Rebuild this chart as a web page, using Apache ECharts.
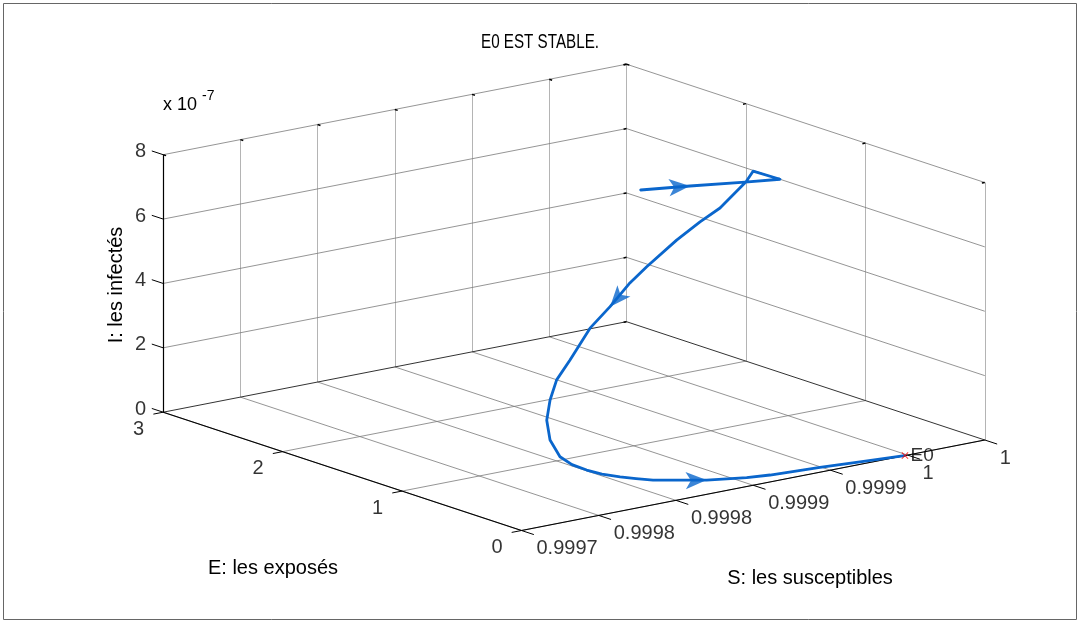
<!DOCTYPE html>
<html><head><meta charset="utf-8">
<script src="https://cdn.jsdelivr.net/npm/echarts@6/dist/echarts.min.js"></script>
<style>html,body{margin:0;padding:0;background:#fff}#c{width:1080px;height:623px}</style>
</head><body><div id="c"></div>
<script>
// ---- data (trajectory of the SEI system) ----
const sValues = [0.9999396, 0.9999483, 0.9999607, 0.9999695, 0.9999474, 0.9999382, 0.9999144, 0.9998968, 0.9998770, 0.9998530, 0.9998398, 0.9998223, 0.9998047, 0.9997871, 0.9997738, 0.9997649, 0.9997581, 0.9997556, 0.9997574, 0.9997617, 0.9997677, 0.9997753, 0.9997847, 0.9997927, 0.9998014, 0.9998315, 0.9998551, 0.9998679, 0.9998979, 0.9999215, 0.9999480];
const eValues = [2.10, 1.80, 1.50, 1.32, 1.26, 1.20, 1.11, 1.05, 0.99, 0.93, 0.90, 0.84, 0.78, 0.72, 0.66, 0.60, 0.54, 0.48, 0.42, 0.375, 0.33, 0.30, 0.27, 0.24, 0.21, 0.15, 0.12, 0.09, 0.06, 0.03, 0.00];
const iValues = [5.76e-7, 6.17e-7, 6.54e-7, 6.77e-7, 7.30e-7, 7.13e-7, 6.65e-7, 6.46e-7, 6.15e-7, 5.62e-7, 5.28e-7, 4.78e-7, 4.35e-7, 3.60e-7, 3.18e-7, 2.71e-7, 2.22e-7, 1.70e-7, 1.24e-7, 1.01e-7, 0.84e-7, 0.68e-7, 0.54e-7, 0.45e-7, 0.36e-7, 0.15e-7, 0.04e-7, 0.04e-7, 0.03e-7, 0.02e-7, 0.00];
const arrowIndices = [1, 11, 25];
const equilibrium = {name: 'E0', s: 0.9999483, e: 0, i: 0};

const sTicks = [0.9997, 0.99975, 0.9998, 0.99985, 0.9999, 0.99995, 1.0];
const sTickLabels = ['0.9997', '0.9998', '0.9998', '0.9999', '0.9999', '1', '1'];
const eTicks = [0, 1, 2, 3];
const eTickLabels = ['0', '1', '2', '3'];
const iTicks = [0, 2e-7, 4e-7, 6e-7, 8e-7];
const iTickLabels = ['0', '2', '4', '6', '8'];

const titleText = 'E0 EST STABLE.';
const sName = 'S: les susceptibles';
const eName = 'E: les exposés';
const iName = 'I: les infectés';

// ---- 3D view (projection of the box onto the page) ----
const S_RANGE = [0.9997, 1.0], E_RANGE = [0, 3], I_RANGE = [0, 8e-7];
const ORIGIN = [521.5, 530.5], VS = [463.3, -90.5], VE = [-358.3, -118.3], VI = [0, -257.5];
function proj(s, e, i) {
  const a = (s - S_RANGE[0]) / (S_RANGE[1] - S_RANGE[0]);
  const b = (e - E_RANGE[0]) / (E_RANGE[1] - E_RANGE[0]);
  const c = (i - I_RANGE[0]) / (I_RANGE[1] - I_RANGE[0]);
  return [ORIGIN[0] + a * VS[0] + b * VE[0] + c * VI[0],
          ORIGIN[1] + a * VS[1] + b * VE[1] + c * VI[1]];
}
function unit(v) { const l = Math.hypot(v[0], v[1]); return [v[0] / l, v[1] / l]; }
const Smin = S_RANGE[0], Smax = S_RANGE[1], Emin = E_RANGE[0], Emax = E_RANGE[1], Imin = I_RANGE[0], Imax = I_RANGE[1];

// grid lines
const slopedGrid = [], verticalGrid = [], backEdges = [];
sTicks.forEach(s => { (s === Smax ? backEdges : slopedGrid).push([proj(s, Emin, Imin), proj(s, Emax, Imin)]); });
eTicks.forEach(e => { (e === Emax ? backEdges : slopedGrid).push([proj(Smin, e, Imin), proj(Smax, e, Imin)]); });
sTicks.forEach(s => verticalGrid.push([proj(s, Emax, Imin), proj(s, Emax, Imax)]));
eTicks.forEach(e => verticalGrid.push([proj(Smax, e, Imin), proj(Smax, e, Imax)]));
iTicks.forEach(i => { if (i !== Imin) { slopedGrid.push([proj(Smin, Emax, i), proj(Smax, Emax, i)]); slopedGrid.push([proj(Smax, Emin, i), proj(Smax, Emax, i)]); } });

// axis lines and ticks
const axisLines = [
  [proj(Smin, Emin, Imin), proj(Smax, Emin, Imin)],
  [proj(Smin, Emin, Imin), proj(Smin, Emax, Imin)],
  [proj(Smin, Emax, Imin), proj(Smin, Emax, Imax)]
];
const dS = unit(VS), dE = unit(VE);
const ticks = [];
function tickSeg(p, d, len) { return [p, [p[0] + d[0] * len, p[1] + d[1] * len]]; }
sTicks.forEach(s => ticks.push(tickSeg(proj(s, Emin, Imin), [-dE[0], -dE[1]], 13)));
eTicks.forEach(e => ticks.push(tickSeg(proj(Smin, e, Imin), [-dS[0], -dS[1]], 10)));
iTicks.forEach(i => ticks.push(tickSeg(proj(Smin, Emax, i), dE, 12)));
// small marks on the back edges
const smallTicks = [];
sTicks.forEach(s => smallTicks.push(tickSeg(proj(s, Emax, Imax), [-dE[0], -dE[1]], 3)));
eTicks.forEach(e => smallTicks.push(tickSeg(proj(Smax, e, Imax), [-dS[0], -dS[1]], 3)));
iTicks.forEach(i => smallTicks.push(tickSeg(proj(Smax, Emax, i), [-dS[0], -dS[1]], 3)));

// tick labels
const FONT = 'Liberation Sans, Arial, sans-serif';
const sLabelData = sTicks.map((s, k) => { const p = proj(s, Emin, Imin); return {name: sTickLabels[k], value: [p[0] + 15, p[1] + 18]}; });
const eLabelData = eTicks.map((e, k) => { const p = proj(Smin, e, Imin); return {name: eTickLabels[k], value: [p[0] - 19, p[1] + 17]}; });
const iLabelData = iTicks.map((i, k) => { const p = proj(Smin, Emax, i); return {name: iTickLabels[k], value: [p[0] - 17, p[1] - 3]}; });

// trajectory
const traj = sValues.map((s, k) => proj(s, eValues[k], iValues[k]));
const arrowData = arrowIndices.map(k => {
  const p0 = traj[k - 1], p1 = traj[k + 1];
  const ang = Math.atan2(-(p1[1] - p0[1]), p1[0] - p0[0]) * 180 / Math.PI;
  return {value: traj[k], symbolRotate: ang - 90};
});
const e0 = proj(equilibrium.s, equilibrium.e, equilibrium.i);

function segSeries(segs, color, width, z) {
  return {type: 'lines', coordinateSystem: 'cartesian2d', silent: true, z: z,
    data: segs.map(c => ({coords: c})), lineStyle: {color: color, width: width, opacity: 1}, symbol: 'none'};
}
function labelSeries(data, align) {
  return {type: 'scatter', silent: true, symbolSize: 0.1, itemStyle: {color: 'rgba(0,0,0,0)'}, data: data, z: 5,
    label: {show: true, position: 'inside', formatter: '{b}', align: align, verticalAlign: 'middle', color: '#000', fontSize: 20, fontFamily: FONT}};
}

const chart = echarts.init(document.getElementById('c'), null, {renderer: 'canvas'});
chart.setOption({
  animation: false,
  backgroundColor: '#fff',
  grid: {left: 0, right: 0, top: 0, bottom: 0},
  xAxis: {type: 'value', min: 0, max: 1080, show: false},
  yAxis: {type: 'value', min: 0, max: 623, inverse: true, show: false},
  series: [
    segSeries(verticalGrid, '#b4b4b4', 1, 1),
    segSeries(slopedGrid, '#7a7a7a', 0.8, 2),
    segSeries(backEdges, '#333', 1, 2),
    segSeries(axisLines, '#000', 1.2, 3),
    segSeries(ticks, '#000', 1, 3),
    segSeries(smallTicks, '#000', 1.5, 3),
    labelSeries(sLabelData, 'left'),
    labelSeries(eLabelData, 'right'),
    labelSeries(iLabelData, 'right'),
    {type: 'line', data: traj, showSymbol: false, silent: true, z: 6, smooth: false,
      lineStyle: {color: '#0a66cc', width: 2.8, join: 'round', cap: 'round'}, itemStyle: {color: '#0a66cc'}},
    {type: 'scatter', data: arrowData, symbol: 'arrow', symbolSize: [13, 21], silent: true, z: 7,
      itemStyle: {color: '#0a66cc'}},
    {type: 'scatter', silent: true, z: 8, data: [{name: equilibrium.name, value: e0}],
      symbol: 'path://M0,1L1,0L5,4L9,0L10,1L6,5L10,9L9,10L5,6L1,10L0,9L4,5Z', symbolSize: 7,
      itemStyle: {color: '#ff0000'},
      label: {show: true, position: 'right', distance: 2, formatter: '{b}', color: '#000', fontSize: 19, fontFamily: FONT}}
  ],
  graphic: [
    {type: 'rect', shape: {x: 3.5, y: 3.5, width: 1073, height: 616}, style: {fill: 'none', stroke: '#666', lineWidth: 1}, silent: true},
    {type: 'text', x: 540, y: 42, scaleX: 0.76, style: {text: titleText, fill: '#000', font: '20px ' + FONT, textAlign: 'center', textVerticalAlign: 'middle'}},
    {type: 'text', x: 810, y: 578, style: {text: sName, fill: '#000', font: '20px ' + FONT, textAlign: 'center', textVerticalAlign: 'middle'}},
    {type: 'text', x: 273, y: 568, style: {text: eName, fill: '#000', font: '20px ' + FONT, textAlign: 'center', textVerticalAlign: 'middle'}},
    {type: 'text', x: 116, y: 285, rotation: Math.PI / 2, style: {text: iName, fill: '#000', font: '20px ' + FONT, textAlign: 'center', textVerticalAlign: 'middle'}},
    {type: 'text', x: 163, y: 105, style: {text: 'x 10', fill: '#000', font: '18px ' + FONT, textAlign: 'left', textVerticalAlign: 'middle'}},
    {type: 'text', x: 202, y: 96, style: {text: '-7', fill: '#000', font: '14px ' + FONT, textAlign: 'left', textVerticalAlign: 'middle'}}
  ]
});
</script></body></html>
